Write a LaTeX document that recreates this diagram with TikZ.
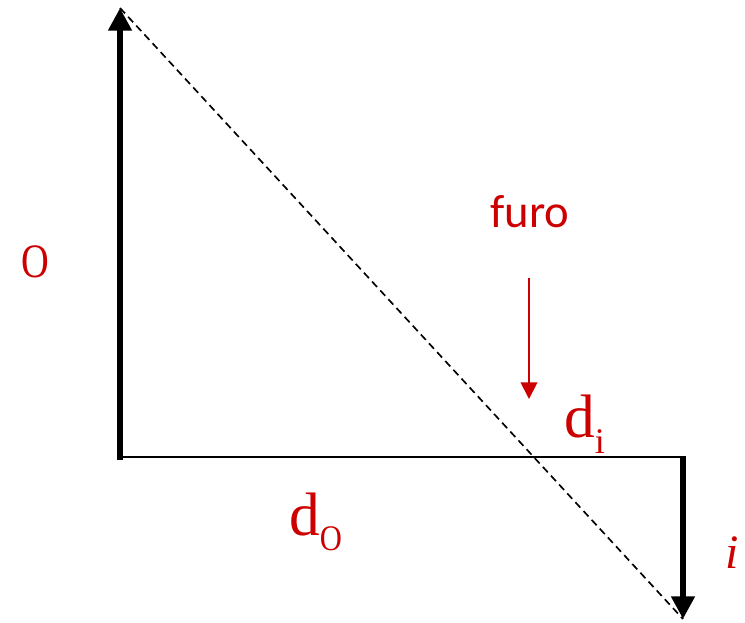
\documentclass[tikz,border=0pt]{standalone}
\usepackage{fontspec}
\setmainfont{Liberation Serif}
\newfontfamily\furofont{Carlito}
\usetikzlibrary{arrows.meta, positioning}
\definecolor{labelred}{RGB}{204,0,0}

\begin{document}
\begin{tikzpicture}[
    x=0.75pt, y=-0.75pt,
    ray/.style       = {-{Triangle[length=17pt, width=17pt]}, line width=4.8pt},
    axis/.style      = {line width=1.3pt},
    sightline/.style = {dash pattern=on 5.5pt off 3.5pt, line width=1.25pt},
    holearrow/.style = {-{Triangle[length=12.5pt, width=12.5pt]}, line width=1.4pt, labelred},
    serifred/.style  = {text=labelred, inner sep=0pt, anchor=base west,
                        font=\fontsize{46}{50}\selectfont},
    sansred/.style   = {text=labelred, inner sep=0pt, anchor=base,
                        font=\furofont\fontsize{35}{40}\selectfont}
]
\useasboundingbox (0,0) rectangle (745,623);

% ========= object and image =========
\coordinate (objbase) at (120,457);
\coordinate (objtip)  at (120,8);
\coordinate (imgbase) at (683,457);
\coordinate (imgtip)  at (683,619);

\draw[axis] (objbase) -- (imgbase);
\draw[sightline] (objtip) -- (imgtip);
\draw[ray] ([yshift=-2pt]objbase) -- (objtip);
\draw[ray] ([yshift=0.5pt]imgbase) -- (imgtip);

% ========= pinhole =========
\node[sansred] (furo) at (530,228) {furo};
\coordinate (furostart) at (529,278);
\coordinate (furoend)   at (529,399);
\draw[holearrow] (furostart) -- (furoend);

% ========= labels =========
\node[serifred, font=\fontsize{36}{39}\selectfont] (objlabel) at (21,278) {\scalebox{0.8}[1]{O}};
\node[serifred] (dilabel) at (564,437)
    {d\raisebox{-12pt}{\fontsize{27}{29}\selectfont i}};
\node[serifred] (dolabel) at (289,535)
    {d\raisebox{-11.5pt}{\fontsize{27}{29}\selectfont\scalebox{0.85}[1]{O}}};
\node[serifred, font=\itshape\fontsize{36}{40}\selectfont] (imglabel) at (725,568) {i};
\end{tikzpicture}
\end{document}
